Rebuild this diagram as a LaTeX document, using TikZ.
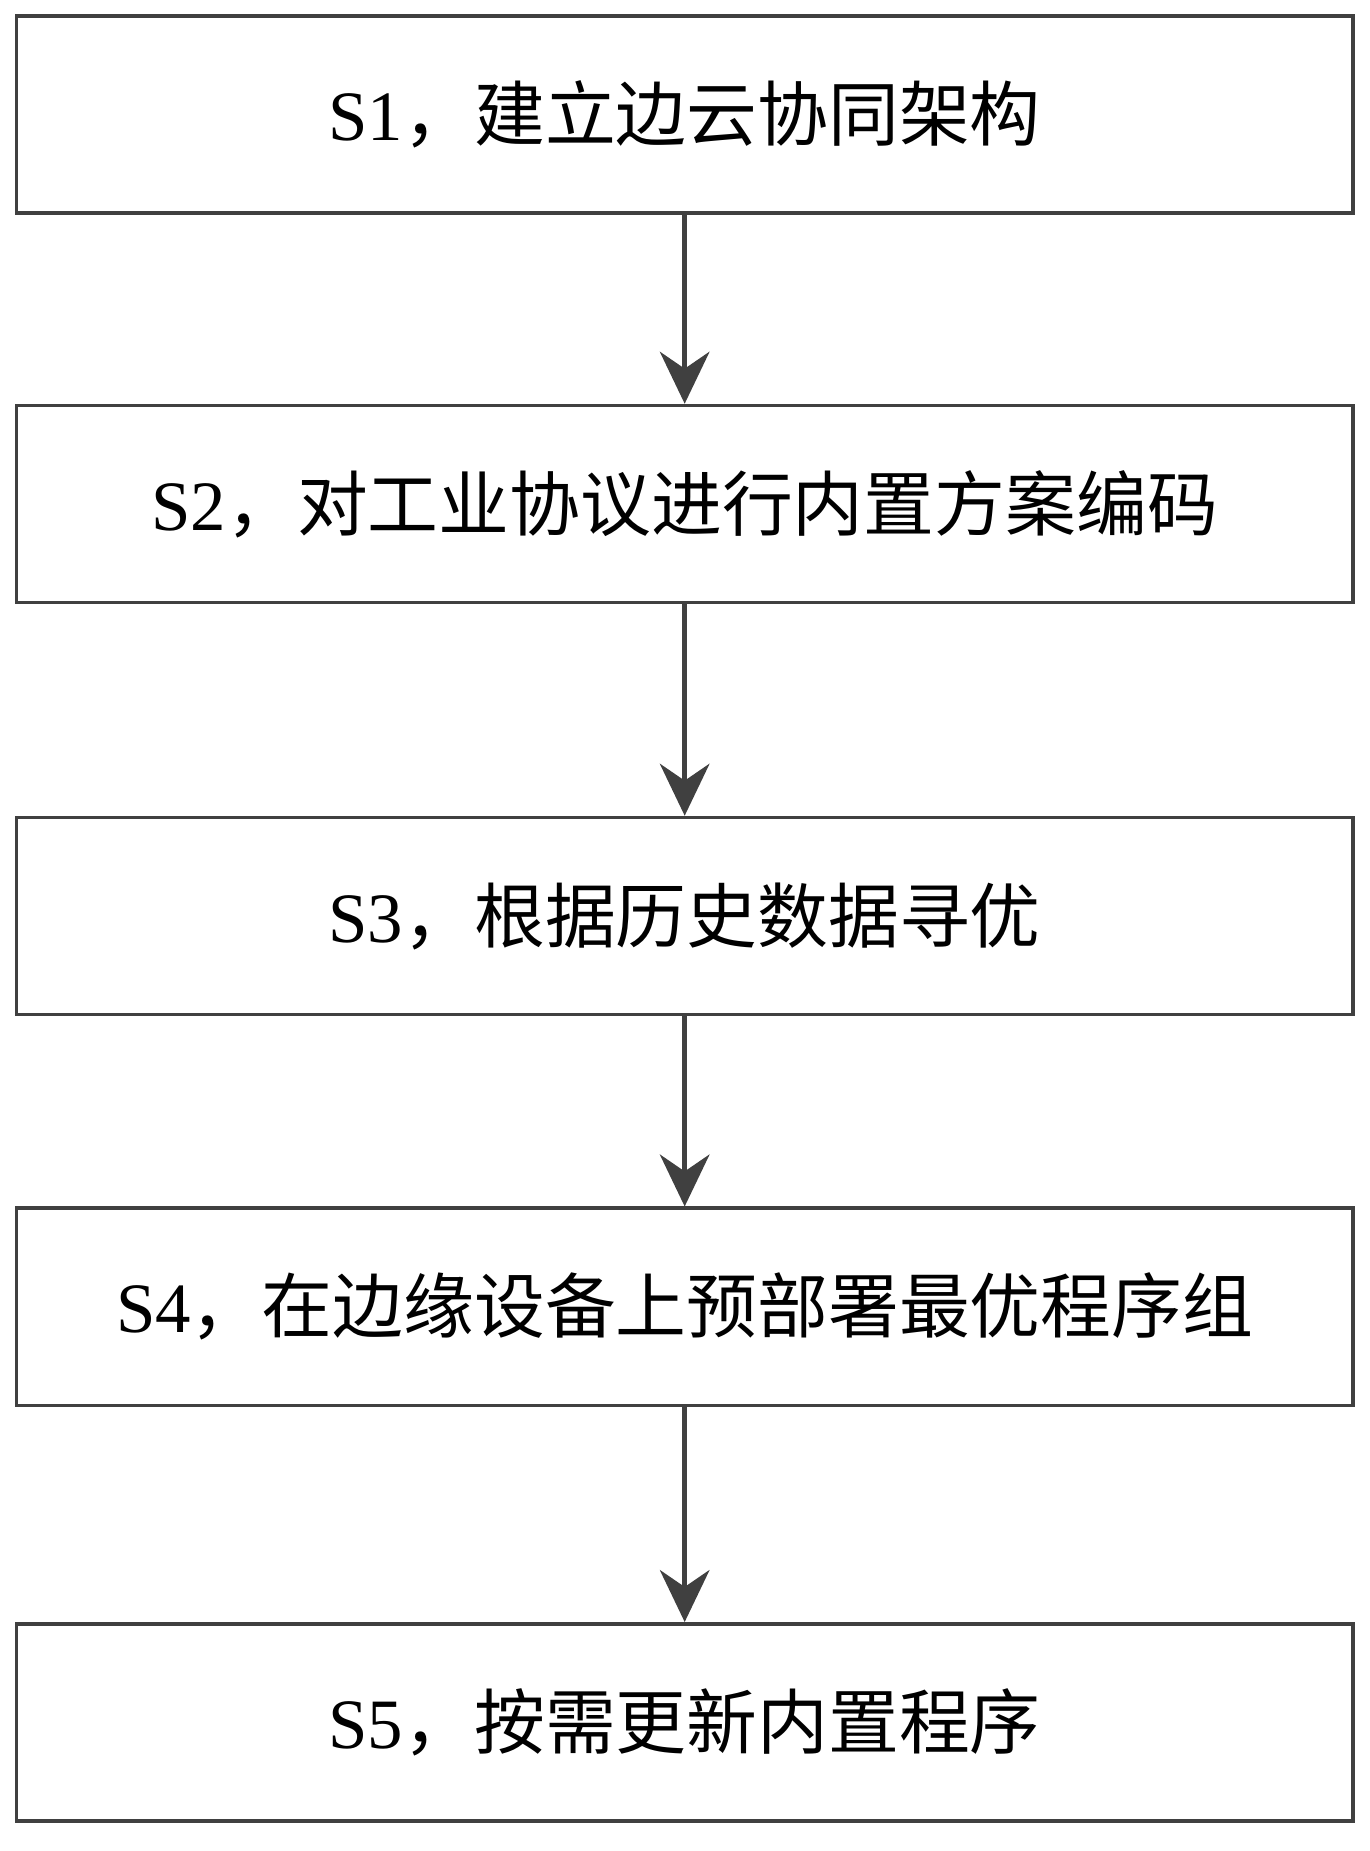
\documentclass[tikz,border=0pt]{standalone}
\usepackage{fontspec}
\setmainfont{Liberation Serif}
\newfontfamily\cjk{Noto Sans CJK SC}
\usetikzlibrary{positioning,arrows.meta}
\definecolor{linegray}{HTML}{404040}

\begin{document}
\begin{tikzpicture}[
    stepbox/.style={rectangle, draw=linegray, line width=1.5pt, minimum width=566pt, minimum height=83.5pt, inner sep=0pt, font=\fontsize{30}{36}\selectfont},
    arrow/.style={-{Stealth[length=22pt, width=21pt]}, draw=linegray, line width=2pt}
]
    \useasboundingbox (0,0) rectangle (580pt,-784pt);
    \node[stepbox] (s1) at (290pt,-48.5pt) {S1{\cjk，建立边云协同架构}};
    \node[stepbox, below=80pt of s1] (s2) {S2{\cjk，对工业协议进行内置方案编码}};
    \node[stepbox, below=89.5pt of s2] (s3) {S3{\cjk，根据历史数据寻优}};
    \node[stepbox, below=80.5pt of s3] (s4) {S4{\cjk，在边缘设备上预部署最优程序组}};
    \node[stepbox, below=91pt of s4] (s5) {S5{\cjk，按需更新内置程序}};

    \draw[arrow] (s1) -- (s2);
    \draw[arrow] (s2) -- (s3);
    \draw[arrow] (s3) -- (s4);
    \draw[arrow] (s4) -- (s5);
\end{tikzpicture}
\end{document}
